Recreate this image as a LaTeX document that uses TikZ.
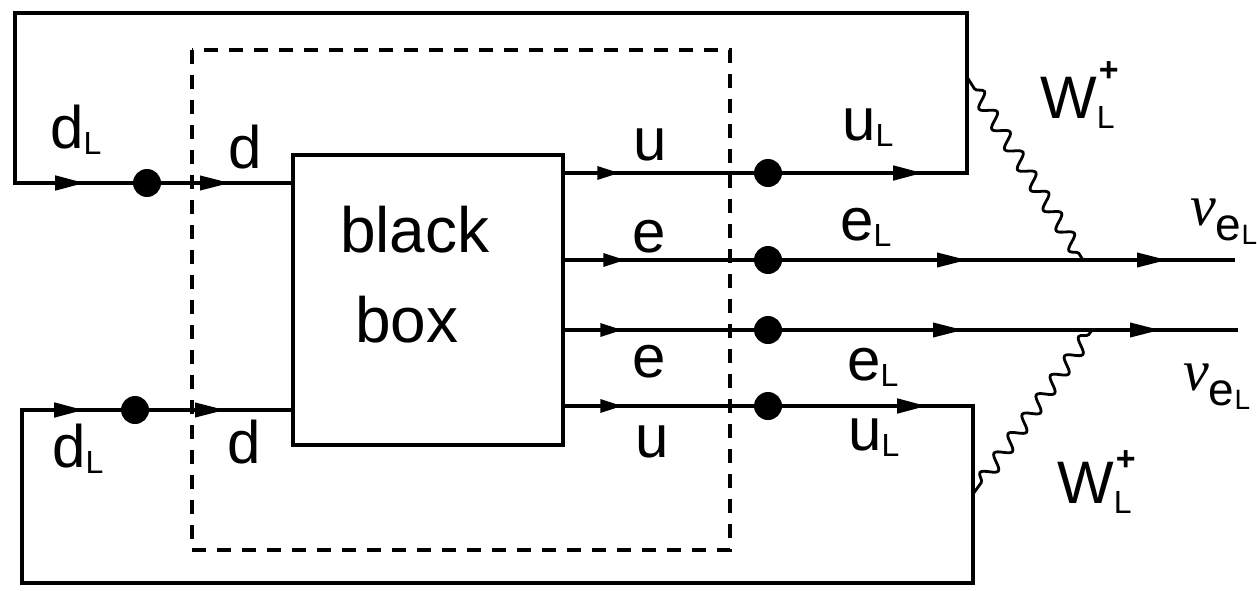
\documentclass[tikz,border=0pt]{standalone}
\usepackage{fontspec}
\setmainfont{Liberation Sans}
\newfontfamily\nufont{Liberation Serif}
\usetikzlibrary{arrows.meta,decorations.markings,decorations.pathmorphing}
\newcommand{\lbsub}[1]{\raisebox{-6pt}{\fontsize{32}{32}\selectfont #1}}
\newcommand{\nusub}{{\nufont\itshape\fontsize{58}{58}\selectfont ν}\raisebox{-15pt}{\fontsize{46}{46}\selectfont e\raisebox{-4pt}{\fontsize{28}{28}\selectfont L}}}
\newcommand{\wlabel}[1]{W\rlap{\raisebox{-10pt}{\fontsize{32}{32}\selectfont L}}\raisebox{#1}{\fontsize{34}{34}\selectfont\bfseries\hspace{2pt}+}}
\begin{document}
\begin{tikzpicture}[x=1pt,y=-1pt,
  dot/.style={circle, fill=black, minimum size=28pt, inner sep=0pt},
  loopline/.style={line width=4.5pt},
  fline/.style={line width=3.5pt},
  arr/.style={postaction={decorate,decoration={markings,mark=at position #1 with {\arrow{Triangle[length=30pt,width=14pt]}}}}},
  sarr/.style={postaction={decorate,decoration={markings,mark=at position #1 with {\arrow{Triangle[length=22pt,width=13pt]}}}}},
  lbl/.style={anchor=base west, inner sep=0pt, font=\fontsize{60}{60}\selectfont},
  wave/.style={line width=2.8pt, decorate, decoration={snake, amplitude=7pt, segment length=24pt, pre length=14pt, post length=4pt}},
  dashbox/.style={line width=3.5pt, dash pattern=on 14pt off 11pt}
]
\useasboundingbox (0,0) rectangle (1257,591);

% dashed box
\draw[dashbox] (192,50) rectangle (730,550);

% black box
\node[draw, line width=4.5pt, minimum width=270pt, minimum height=290pt, inner sep=0pt] (bb) at (428,300) {};
\node[anchor=base west, inner sep=0pt, font=\fontsize{64}{64}\selectfont] (bbt1) at (340,252) {black};
\node[anchor=base west, inner sep=0pt, font=\fontsize{64}{64}\selectfont] (bbt2) at (355,342) {box};

% dots
\node[dot] (L1) at (147,183) {};
\node[dot] (L2) at (135,410) {};
\node[dot] (R1) at (768,173) {};
\node[dot] (R2) at (768,260) {};
\node[dot] (R3) at (768,330) {};
\node[dot] (R4) at (768,406) {};

% loop corners and end points
\coordinate (TR1) at (967,173);
\coordinate (TR2) at (967,13);
\coordinate (TL2) at (15,13);
\coordinate (TL1) at (15,183);
\coordinate (BR1) at (973,406);
\coordinate (BR2) at (973,583);
\coordinate (BL2) at (22,583);
\coordinate (BL1) at (22,410);
\coordinate (E1) at (1235,260);
\coordinate (E2) at (1238,330);
\coordinate (W1a) at (967,77);
\coordinate (W1b) at (1083,260);
\coordinate (W2a) at (973,494);
\coordinate (W2b) at (1092,330);

% loops
\draw[loopline, arr=141pt, arr=1537pt] (R1) -- (TR1) -- (TR2) -- (TL2) -- (TL1) -- (L1);
\draw[loopline, arr=145pt, arr=1554pt] (R4) -- (BR1) -- (BR2) -- (BL2) -- (BL1) -- (L2);

% inputs
\draw[fline, arr=69pt] (L1) -- (bb.west |- L1);
\draw[fline, arr=76pt] (L2) -- (bb.west |- L2);

% outputs
\draw[fline, sarr=54pt] (bb.east |- R1) -- (R1);
\draw[fline, sarr=60pt] (bb.east |- R2) -- (R2);
\draw[fline, sarr=57pt] (bb.east |- R3) -- (R3);
\draw[fline, sarr=57pt] (bb.east |- R4) -- (R4);

% lepton lines
\draw[fline, arr=185pt, arr=385pt] (R2) -- (W1b) -- (E1);
\draw[fline, arr=181pt, arr=378pt] (R3) -- (W2b) -- (E2);

% W bosons
\draw[wave] (W1a) -- (W1b);
\draw[wave] (W2a) -- (W2b);

% labels
\node[lbl] (ldL1) at (50,148) {d\lbsub{L}};
\node[lbl] (ld1) at (228,168) {d};
\node[lbl] (lu1) at (633,160) {u};
\node[lbl] (le1) at (632,252) {e};
\node[lbl] (le2) at (632,377) {e};
\node[lbl] (lu2) at (635,457) {u};
\node[lbl] (ld2) at (227,463) {d};
\node[lbl] (ldL2) at (52,467) {d\lbsub{L}};
\node[lbl] (luL1) at (842,140) {u\lbsub{L}};
\node[lbl] (leL1) at (840,240) {e\lbsub{L}};
\node[lbl] (leL2) at (847,380) {e\lbsub{L}};
\node[lbl] (luL2) at (848,450) {u\lbsub{L}};
\node[lbl] (lW1) at (1040,118) {\wlabel{36pt}};
\node[lbl] (lW2) at (1057,503) {\wlabel{33pt}};
\node[lbl] (lnu1) at (1190,225) {\nusub};
\node[lbl] (lnu2) at (1183,390) {\nusub};
\end{tikzpicture}
\end{document}
